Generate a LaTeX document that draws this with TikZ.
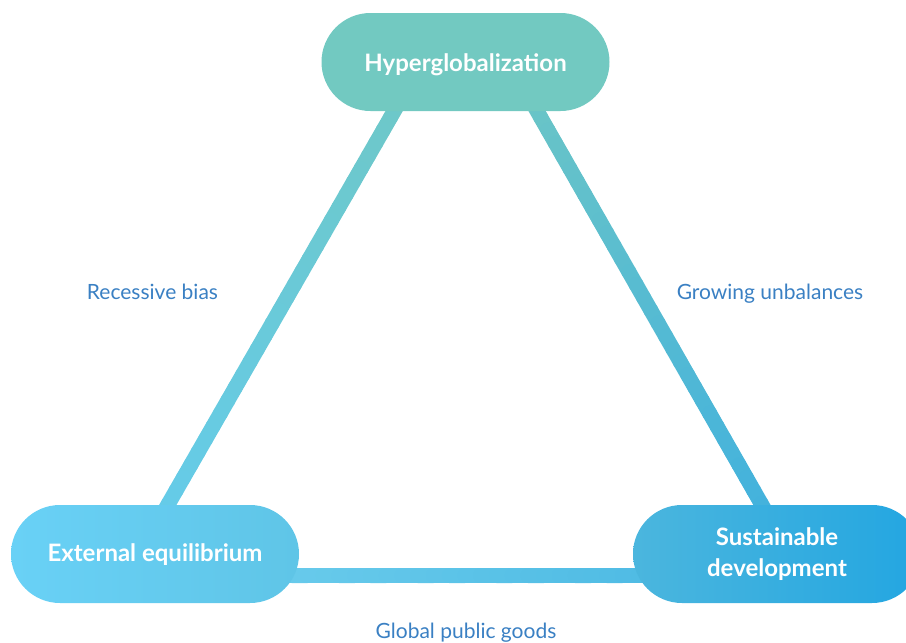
\documentclass[tikz,border=0pt]{standalone}
\usepackage{fontspec}
\setmainfont{Lato}
\usetikzlibrary{shapes.misc,calc}

\definecolor{hypteal}{HTML}{72C9C1}
\definecolor{extleft}{HTML}{69D1F6}
\definecolor{extright}{HTML}{5FC5E7}
\definecolor{susleft}{HTML}{4BB6DE}
\definecolor{susright}{HTML}{23A6E1}
\definecolor{tagblue}{HTML}{3A80C3}
\definecolor{linetop}{HTML}{6FC7C4}
\definecolor{lineleft}{HTML}{64CCEC}
\definecolor{lineright}{HTML}{3FB0DF}

\tikzset{
  pill/.style={rounded rectangle, minimum width=288pt, minimum height=98pt,
    inner sep=0pt, text=white, align=center,
    font=\bfseries\fontsize{24}{31}\selectfont},
  tag/.style={text=tagblue, font=\fontsize{21}{25}\selectfont},
  edge/.style={line width=15pt, line cap=round},
}

% thick connector with a colour running from #3 to #4
\newcommand\gradedge[4]{%
  \foreach \i in {0,...,39}{
    \pgfmathsetmacro\pct{100-\i*2.5}
    \draw[edge, draw=#3!\pct!#4] ($(#1)!\i/40!(#2)$) -- ($(#1)!{(\i+1)/40}!(#2)$);
  }}

\begin{document}
\begin{tikzpicture}[x=1pt, y=-1pt]
	\useasboundingbox (0,0) rectangle (906,643);
	\clip (0,0) rectangle (906,643);

	% Nodes
	\path (465.5,62) coordinate (hyp-c);
	\path (155,554) coordinate (ext-c);
	\path (777,554) coordinate (sus-c);

	% Connector ends (hidden under the nodes)
	\coordinate (hyp-l) at ($(hyp-c)+(-30.5,-22)$);
	\coordinate (hyp-r) at ($(hyp-c)+(31,-22)$);
	\coordinate (ext-t) at ($(ext-c)+(-16,1)$);
	\coordinate (ext-r) at ($(ext-c)+(-5,21.5)$);
	\coordinate (sus-t) at ($(sus-c)+(13.5,1)$);
	\coordinate (sus-l) at ($(sus-c)+(3,21.5)$);

	% Connectors
	\gradedge{hyp-l}{ext-t}{linetop}{lineleft}
	\gradedge{hyp-r}{sus-t}{linetop}{lineright}
	\gradedge{ext-r}{sus-l}{lineleft!90!white}{lineright!80!lineleft}

	\node[pill, fill=hypteal] (hyp) at (hyp-c) {\raisebox{-3pt}[\height][\depth]{Hyperglobalization}};
	\node[pill, left color=extleft, right color=extright] (ext) at (ext-c) {\raisebox{-1pt}[\height][\depth]{External equilibrium}};
	\node[pill, left color=susleft, right color=susright] (sus) at (sus-c) {Sustainable\\development};

	% Labels
	\node[tag] (bias) at (152.5,292) {Recessive bias};
	\node[tag] (unbal) at (770,294) {Growing unbalances};
	\node[tag] (goods) at (466,633) {Global public goods};
\end{tikzpicture}
\end{document}
